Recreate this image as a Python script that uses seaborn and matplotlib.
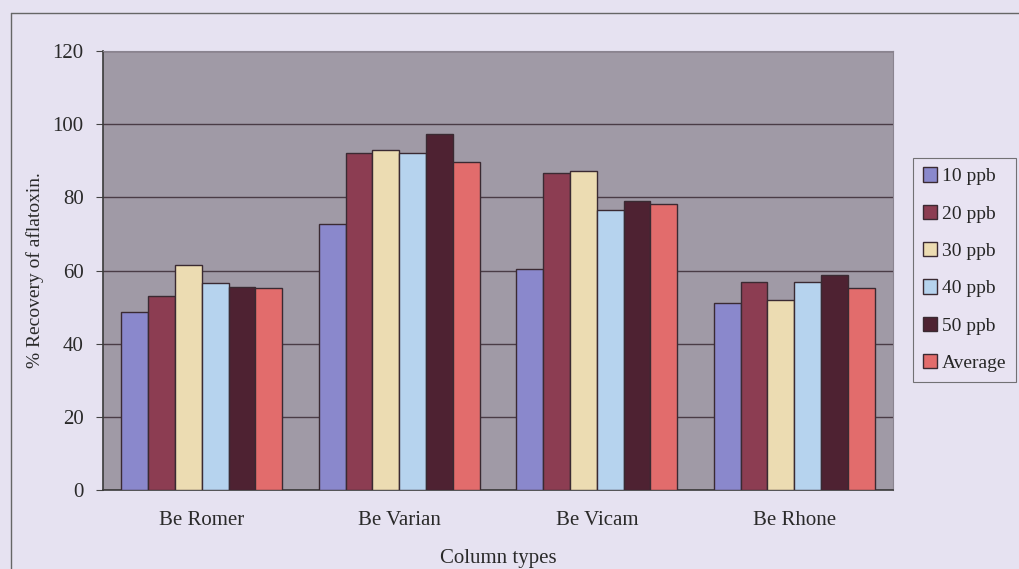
import pandas as pd
import numpy as np
import matplotlib
matplotlib.use('Agg')
import matplotlib.pyplot as plt
import seaborn as sns
from matplotlib.lines import Line2D

# Data
columns = ['Be Romer', 'Be Varian', 'Be Vicam', 'Be Rhone']
series = ['10 ppb', '20 ppb', '30 ppb', '40 ppb', '50 ppb', 'Average']
ppb10 = [48.6, 72.6, 60.5, 51.0]
ppb20 = [53.0, 92.0, 86.6, 56.8]
ppb30 = [61.4, 92.8, 87.1, 51.9]
ppb40 = [56.5, 92.2, 76.5, 56.8]
ppb50 = [55.6, 97.2, 79.1, 58.8]
average = [55.2, 89.7, 78.2, 55.1]
colors = ['#8a88cc', '#8c3d52', '#ecdcb2', '#b6d3ee', '#4e2232', '#e26c6c']

values = [ppb10, ppb20, ppb30, ppb40, ppb50, average]
rows = []
for s, vals in zip(series, values):
    for c, v in zip(columns, vals):
        rows.append({'Column types': c, 'Series': s, 'Recovery': v})
df = pd.DataFrame(rows)

sns.set_style('white')
plt.rcParams['font.family'] = ['Liberation Serif', 'DejaVu Serif']

fig = plt.figure(figsize=(10.2, 5.69), dpi=100)
fig.patch.set_facecolor('#e6e2f1')
ax = fig.add_axes([0.101, 0.1388, 0.7745, 0.7716])
ax.set_facecolor('#a09aa6')

sns.barplot(data=df, x='Column types', y='Recovery', hue='Series',
            hue_order=series, order=columns, palette=colors, saturation=1,
            width=0.815, edgecolor='#3a2a32', linewidth=1.0,
            legend=False, ax=ax, zorder=3)

ax.set_ylim(0, 120)
ax.set_xlim(-0.5, 3.5)
ax.set_yticks(np.arange(0, 121, 20))
ax.yaxis.grid(True, color='#4a3c46', linewidth=1.0, zorder=1)
ax.set_axisbelow(True)

# category ticks sit between the groups, labels centred
ax.set_xticks(np.arange(-0.5, 4, 1), minor=True)
ax.tick_params(axis='x', which='major', length=0, pad=15, labelsize=15, colors='#2a2a2a')
ax.tick_params(axis='x', which='minor', length=5, color='#444444', direction='out')
ax.tick_params(axis='y', length=5, color='#444444', direction='out', labelsize=15,
               colors='#2a2a2a', left=True, pad=9)

for side in ['left', 'bottom']:
    ax.spines[side].set_color('#3a3a3a')
    ax.spines[side].set_linewidth(1.2)
for side in ['top', 'right']:
    ax.spines[side].set_color('#8a8490')
    ax.spines[side].set_linewidth(0.8)

ax.set_xlabel('Column types', fontsize=15, color='#2a2a2a', labelpad=14)
ax.set_ylabel('% Recovery of aflatoxin.', fontsize=14, color='#2a2a2a', labelpad=6)

handles = [plt.Rectangle((0, 0), 1, 1, facecolor=c, edgecolor='#3a2a32') for c in colors]
leg = fig.legend(handles, series, loc='upper left', bbox_to_anchor=(0.895, 0.723),
                 fontsize=14, frameon=True, fancybox=False, handlelength=0.75,
                 handleheight=0.75, handletextpad=0.25, labelspacing=1.0,
                 borderpad=0.5, borderaxespad=0)
leg.get_frame().set_edgecolor('#555555')
leg.get_frame().set_facecolor('#e9e4f3')
leg.get_frame().set_linewidth(0.8)

# outer chart frame (left and top edges)
fig.add_artist(Line2D([11 / 1020, 11 / 1020], [0, 1 - 13 / 569], color='#666666', linewidth=1.0))
fig.add_artist(Line2D([11 / 1020, 1], [1 - 13 / 569, 1 - 13 / 569], color='#666666', linewidth=1.0))

fig.savefig('out.png', dpi=100, facecolor=fig.get_facecolor())
